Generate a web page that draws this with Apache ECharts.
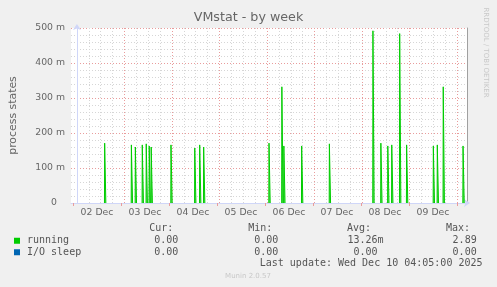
<!DOCTYPE html>
<html>
<head>
<meta charset="utf-8">
<script src="https://cdn.jsdelivr.net/npm/echarts@6/dist/echarts.min.js"></script>
<style>
html,body{margin:0;padding:0;background:#f0f0f0;}
#chart{width:497px;height:287px;}
</style>
</head>
<body>
<div id="chart"></div>
<script>
// ---- data (hours are counted from 02 Dec 00:00) ----
const dayLabels = ['02 Dec','03 Dec','04 Dec','05 Dec','06 Dec','07 Dec','08 Dec','09 Dec'];
const yTickLabels = ['0','100 m','200 m','300 m','400 m','500 m'];
const spikeHours = [14, 27.5, 29.5, 33, 35, 36.5, 37.5, 47.5, 59.5, 62, 64,
                    97, 103.5, 104.5, 113.5, 127.5,
                    149.5, 153.5, 157, 159, 163, 166.5, 180, 182, 185, 195];
const runningValues = [0.171, 0.166, 0.160, 0.166, 0.169, 0.163, 0.160, 0.166, 0.157, 0.166, 0.160,
                       0.171, 0.332, 0.163, 0.163, 0.169,
                       0.492, 0.171, 0.163, 0.166, 0.484, 0.166, 0.163, 0.166, 0.332, 0.163];
const ioSleepHours = [-3, 197];
const ioSleepValues = [0, 0];
const seriesNames = ['running', 'I/O sleep'];
const statHeaders = ['Cur:', 'Min:', 'Avg:', 'Max:'];
const runningStats = ['0.00 ', '0.00 ', '13.26m', '2.89 '];
const ioSleepStats = ['0.00 ', '0.00 ', '0.00 ', '0.00 '];
const titleText = 'VMstat - by week';
const yAxisName = 'process states';
const lastUpdate = 'Last update: Wed Dec 10 04:05:00 2025';
const footer = 'Munin 2.0.57';
const watermark = 'RRDTOOL / TOBI OETIKER';

// axis scaffolding: one-hour slots spanning the plot (-3 h .. 197 h), used for the vertical grid
const X_MIN = -3, X_MAX = 197;
const hourSlots = Array.from({length: X_MAX - X_MIN}, (_, i) => String(X_MIN + i));

// ---- build series ----
const runningData = [];
spikeHours.forEach((t, i) => {
  runningData.push([t - 0.1, 0], [t, runningValues[i]], [t + 0.6, 0], [t + 0.7, '-']);
});
const ioData = ioSleepHours.map((t, i) => [t, ioSleepValues[i]]);

const RED = '#e99c9c';
const GREY = '#d6d6d6';
const DOT = [1, 2];
const AXIS = '#CFD6F8';
const FONT = '#666666';
const MONO = 'DejaVu Sans Mono';

const colEdges = [184.3, 284.3, 383.5, 482.7];
const headerEdges = [173.3, 272.3, 371, 470];
const graphics = [];
statHeaders.forEach((h, i) => graphics.push({type:'text', x: headerEdges[i], y: 228,
  style:{text:h, font:'10px ' + MONO, fill:'#555', align:'right', verticalAlign:'middle'}}));
runningStats.forEach((s, i) => graphics.push({type:'text', x: colEdges[i], y: 240.5,
  style:{text:s, font:'10px ' + MONO, fill:'#555', align:'right', verticalAlign:'middle'}}));
ioSleepStats.forEach((s, i) => graphics.push({type:'text', x: colEdges[i], y: 252,
  style:{text:s, font:'10px ' + MONO, fill:'#555', align:'right', verticalAlign:'middle'}}));
graphics.push({type:'text', x: 482.5, y: 263.5,
  style:{text:lastUpdate, font:'10px ' + MONO, fill:'#555', align:'right', verticalAlign:'middle'}});
graphics.push({type:'text', x: 248, y: 276.5,
  style:{text:footer, font:'7px DejaVu Sans', fill:'#c8c8c8', align:'center', verticalAlign:'middle'}});
graphics.push({type:'text', x: 486, y: 52.5, rotation: -Math.PI / 2,
  style:{text:watermark, font:'7px DejaVu Sans', fill:'#c8c8c8', align:'center', verticalAlign:'middle'}});

const hourOf = (k) => X_MIN + k;
const isDay = (k) => hourOf(k) % 24 === 0;
const isSix = (k) => hourOf(k) % 6 === 0 && !isDay(k);

const chart = echarts.init(document.getElementById('chart'), null, {renderer:'canvas'});
chart.setOption({
  animation: false,
  backgroundColor: '#f0f0f0',
  title: {text: titleText, left: 'center', top: 11, padding: 0,
    textStyle: {fontFamily: 'DejaVu Sans', fontSize: 12.7, fontWeight: 'normal', color: FONT}},
  legend: {data: seriesNames, orient: 'vertical', left: 14, top: 235, icon: 'rect', padding: 0,
    itemWidth: 6, itemHeight: 6, itemGap: 0, selectedMode: false,
    itemStyle: {opacity: 1},
    textStyle: {fontFamily: MONO, fontSize: 10, color: '#555', lineHeight: 11.5, padding: [0,0,0,2]}},
  grid: [
    {left: 67, right: 30, top: 28, bottom: 84, show: true, backgroundColor: '#ffffff', borderWidth: 0},
    {left: 73, width: 384, top: 28, bottom: 84, show: false}
  ],
  xAxis: [
    // data axis: 200 hours across the plot
    {type: 'value', gridIndex: 0, min: X_MIN, max: X_MAX,
     axisLine: {show: true, onZero: false, lineStyle: {color: AXIS, width: 1},
       symbol: ['none', 'arrow'], symbolSize: [6, 6], symbolOffset: [0, 3]},
     axisTick: {show: false}, axisLabel: {show: false}, splitLine: {show: false}},
    // 6-hour minor vertical grid
    {type: 'category', gridIndex: 0, data: hourSlots, boundaryGap: true, position: 'bottom',
     axisLine: {show: false}, axisTick: {show: false}, axisLabel: {show: false},
     splitLine: {show: true, interval: (k) => isSix(k),
       lineStyle: {type: DOT, width: 1, color: GREY}}},
    // daily major vertical grid
    {type: 'category', gridIndex: 0, data: hourSlots, boundaryGap: true, position: 'bottom',
     axisLine: {show: false}, axisTick: {show: false}, axisLabel: {show: false},
     splitLine: {show: true, interval: (k) => isDay(k),
       lineStyle: {type: DOT, width: 1, color: RED}}},
    // day labels and day ticks (02 Dec 00:00 .. 10 Dec 00:00)
    {type: 'category', gridIndex: 1, data: dayLabels, boundaryGap: true, position: 'bottom',
     axisLine: {show: false},
     axisTick: {show: true, interval: 0, length: 3, lineStyle: {color: RED}},
     axisLabel: {interval: 0, fontFamily: 'DejaVu Sans', fontSize: 9.3, color: FONT, margin: 5},
     splitLine: {show: false}}
  ],
  yAxis: [
    {type: 'value', gridIndex: 0, min: 0, max: 0.5, interval: 0.1,
     name: yAxisName, nameLocation: 'middle', nameGap: 52, nameRotate: 90,
     nameTextStyle: {fontFamily: 'DejaVu Sans', fontSize: 10.9, color: FONT},
     axisLine: {show: true, lineStyle: {color: AXIS, width: 1},
       symbol: ['none', 'arrow'], symbolSize: [6, 6], symbolOffset: [0, 4]},
     axisTick: {show: false},
     axisLabel: {fontFamily: 'DejaVu Sans', fontSize: 9.3, color: FONT, margin: 6,
       formatter: (v) => {
         const i = Math.round(v * 10);
         return i === 0 ? '{z|' + yTickLabels[0] + '}' : yTickLabels[i];
       },
       rich: {z: {fontFamily: 'DejaVu Sans', fontSize: 9.3, color: FONT, padding: [0, 8, 0, 0]}}},
     splitLine: {show: true, lineStyle: {type: DOT, width: 1, color: RED}},
     minorTick: {show: false, splitNumber: 5},
     minorSplitLine: {show: true, lineStyle: {type: DOT, width: 1, color: GREY}}},
    {type: 'value', gridIndex: 0, min: 0, max: 0.5, position: 'right',
     axisLine: {show: true, lineStyle: {color: '#a0a0a0', width: 1}},
     axisTick: {show: false}, axisLabel: {show: false}, splitLine: {show: false}},
    {type: 'value', gridIndex: 1, show: false, min: 0, max: 0.5}
  ],
  series: [
    {name: seriesNames[0], type: 'line', xAxisIndex: 0, yAxisIndex: 0, data: runningData,
     showSymbol: false, symbol: 'none', connectNulls: false, color: '#00cc00',
     lineStyle: {width: 1, color: '#00cc00'},
     areaStyle: {color: '#00cc00', opacity: 0.6}, z: 3},
    {name: seriesNames[1], type: 'line', xAxisIndex: 0, yAxisIndex: 0, data: ioData,
     showSymbol: false, symbol: 'none', color: '#0066b3',
     lineStyle: {width: 1, color: '#0066b3'}, z: -1}
  ],
  graphic: graphics
});
</script>
</body>
</html>
